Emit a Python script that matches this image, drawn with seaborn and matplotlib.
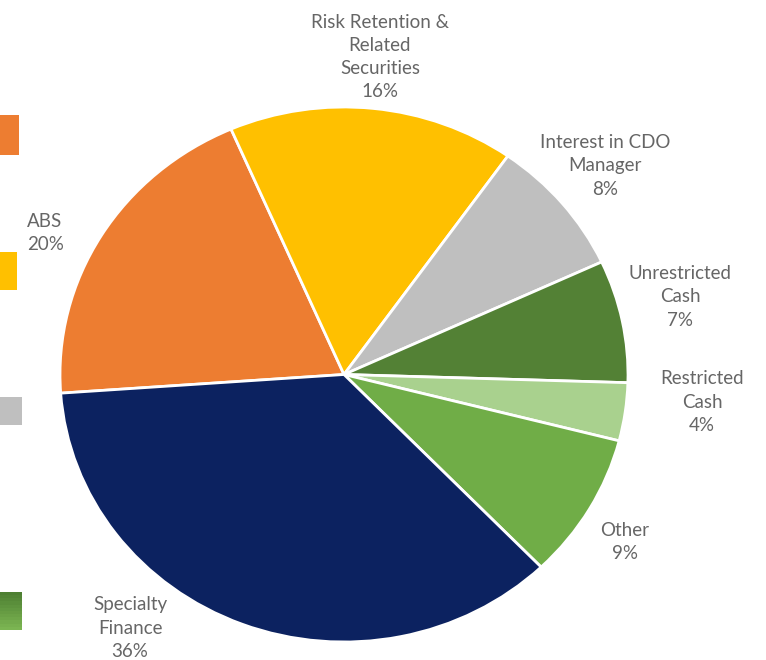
import matplotlib
matplotlib.use("Agg")
import matplotlib.pyplot as plt
import matplotlib.colors as mcolors
import seaborn as sns
import numpy as np
from matplotlib.patches import Rectangle

sns.set_theme(style="white")
plt.rcParams['font.family'] = ['Lato', 'DejaVu Sans']

categories = ["ABS", "Risk Retention &\nRelated\nSecurities", "Interest in CDO\nManager",
              "Unrestricted\nCash", "Restricted\nCash", "Other", "Specialty\nFinance"]
values = [19.6, 16.3, 8.3, 7.4, 3.5, 8.8, 36.1]
colors = ["#ED7D31", "#FFC000", "#BFBFBF", "#538135", "#A9D18E", "#70AD47", "#0C2260"]

# label block centres in pixels (x, y) and horizontal alignment
label_pos = [(27, 233, "left"), (380, 57, "center"), (605, 166, "center"),
             (680, 297, "center"), (702, 402, "center"), (625, 542, "center"),
             (130, 628, "center")]

W, H = 766, 660
fig = plt.figure(figsize=(W / 100, H / 100), dpi=100)
fig.patch.set_facecolor("white")

left, right, top, bottom = 60, 628, 107, 642
ax = fig.add_axes([left / W, (H - bottom) / H, (right - left) / W, (bottom - top) / H])
ax.pie(values, colors=colors, startangle=184, counterclock=False,
       wedgeprops=dict(edgecolor="white", linewidth=2))
ax.set_aspect("auto")
ax.set_xlim(-1.0, 1.0)
ax.set_ylim(-1.0, 1.0)
ax.axis("off")

for cat, v, (px, py, ha) in zip(categories, values, label_pos):
    fig.text(px / W, 1 - py / H, f"{cat}\n{round(v)}%", ha=ha, va="center",
             multialignment=ha, fontsize=13.5, color="#666666", linespacing=1.45)

# cropped legend swatches at the left edge
swatches = [(0, 115, 19, 40, "#ED7D31", "#ED7D31"), (0, 252, 17, 38, "#FFC000", "#FFC000"),
            (0, 397, 22, 28, "#BFBFBF", "#BFBFBF"), (0, 592, 22, 38, "#4E7F32", "#7BB552")]
for x0, y0, w, h, c1, c2 in swatches:
    n = 12
    cmap = mcolors.LinearSegmentedColormap.from_list("g", [c1, c2])
    for i in range(n):
        fig.patches.append(Rectangle((x0 / W, 1 - (y0 + h * (i + 1) / n) / H), w / W,
                                     h / n / H * 1.05, transform=fig.transFigure,
                                     color=cmap(i / (n - 1)), lw=0, zorder=5))

fig.savefig("out.png", dpi=100)
